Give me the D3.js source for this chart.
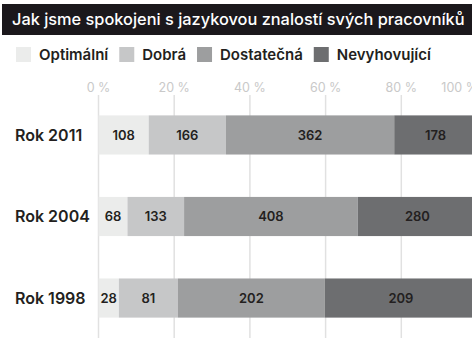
<!DOCTYPE html>
<html>
<head>
<meta charset="utf-8">
<script src="https://cdn.jsdelivr.net/npm/d3@7"></script>
<style>
  html, body { margin: 0; padding: 0; background: #fff; }
  svg { display: block; font-family: Inter, Roboto, "Noto Sans", sans-serif; }
</style>
</head>
<body>
<svg id="chart" width="472" height="352"></svg>
<script>
// Survey data: number of answers per rating, per survey year
const title = "Jak jsme spokojeni s jazykovou znalostí svých pracovníků";
const years = ["Rok 2011", "Rok 2004", "Rok 1998"];
const ratings = ["Optimální", "Dobrá", "Dostatečná", "Nevyhovující"];
const optimalni = [108, 68, 28];
const dobra = [166, 133, 81];
const dostatecna = [362, 408, 202];
const nevyhovujici = [178, 280, 209];
const tickValues = [0, 20, 40, 60, 80, 100];
const colors = ["#ebeceb", "#c6c7c8", "#9d9e9f", "#6d6e70"];

const rows = years.map((y, i) => ({
  year: y,
  "Optimální": optimalni[i],
  "Dobrá": dobra[i],
  "Dostatečná": dostatecna[i],
  "Nevyhovující": nevyhovujici[i]
}));

const W = 472;
const svg = d3.select("#chart");

// Title bar
svg.append("rect")
  .attr("x", 2).attr("y", 4).attr("width", 470).attr("height", 31)
  .attr("fill", "#1b181c");
const titleText = svg.append("text")
  .attr("x", 12).attr("y", 25)
  .attr("fill", "#fff")
  .attr("font-size", 15)
  .attr("font-weight", 500)
  .text(title);
// fit the heading to the bar width
const tw = titleText.node().getComputedTextLength();
titleText.attr("font-size", 15 * 453 / tw);

// Legend
const color = d3.scaleOrdinal().domain(ratings).range(colors);
const legend = svg.append("g").attr("transform", "translate(16,47)");
let lx = 0;
ratings.forEach(r => {
  const g = legend.append("g").attr("transform", `translate(${lx},0)`);
  g.append("rect").attr("width", 15).attr("height", 15).attr("fill", color(r));
  const t = g.append("text")
    .attr("x", 23).attr("y", 13)
    .attr("font-size", 15)
    .attr("font-weight", 600)
    .attr("fill", "#231f20")
    .text(r);
  lx += 23 + t.node().getComputedTextLength() + 11;
});

// Scales
const x = d3.scaleLinear().domain([0, 100]).range([98.5, 477]);
const y = d3.scaleBand().domain(years).range([95, 338]).paddingInner(0.52).paddingOuter(0.25);

// Grid lines and percentage ticks
const grid = svg.append("g");
grid.selectAll("line").data(tickValues).join("line")
  .attr("x1", d => x(d)).attr("x2", d => x(d))
  .attr("y1", 95).attr("y2", 338)
  .attr("stroke", "#e1e1e1").attr("stroke-width", 1.5);
grid.selectAll("text").data(tickValues).join("text")
  .attr("y", 92)
  .attr("text-anchor", "middle")
  .attr("font-size", 12.5)
  .attr("fill", "#c9c9c9")
  .text(d => d + " %")
  .attr("x", function (d) {
    // keep the last tick label from running far past the right edge
    const w = this.getComputedTextLength();
    return Math.min(x(d), W + 6 - w / 2);
  });

// Stacked 100 % bars
const stack = d3.stack().keys(ratings).offset(d3.stackOffsetExpand);
const series = stack(rows);

const layers = svg.append("g").selectAll("g").data(series).join("g")
  .attr("fill", d => color(d.key));
layers.selectAll("rect").data(d => d).join("rect")
  .attr("x", d => x(d[0] * 100))
  .attr("width", d => x(d[1] * 100) - x(d[0] * 100))
  .attr("y", d => y(d.data.year))
  .attr("height", y.bandwidth());

// Counts inside segments
const labels = svg.append("g");
series.forEach(s => {
  s.forEach(d => {
    labels.append("text")
      .attr("x", (x(d[0] * 100) + x(d[1] * 100)) / 2)
      .attr("y", y(d.data.year) + y.bandwidth() / 2)
      .attr("dy", "0.35em")
      .attr("text-anchor", "middle")
      .attr("font-size", 13)
      .attr("font-weight", 600)
      .attr("fill", "#231f20")
      .text(d.data[s.key]);
  });
});

// Year labels
svg.append("g").selectAll("text").data(years).join("text")
  .attr("x", 15)
  .attr("y", d => y(d) + y.bandwidth() / 2)
  .attr("dy", "0.35em")
  .attr("font-size", 16)
  .attr("font-weight", 600)
  .attr("fill", "#231f20")
  .text(d => d);
</script>
</body>
</html>
